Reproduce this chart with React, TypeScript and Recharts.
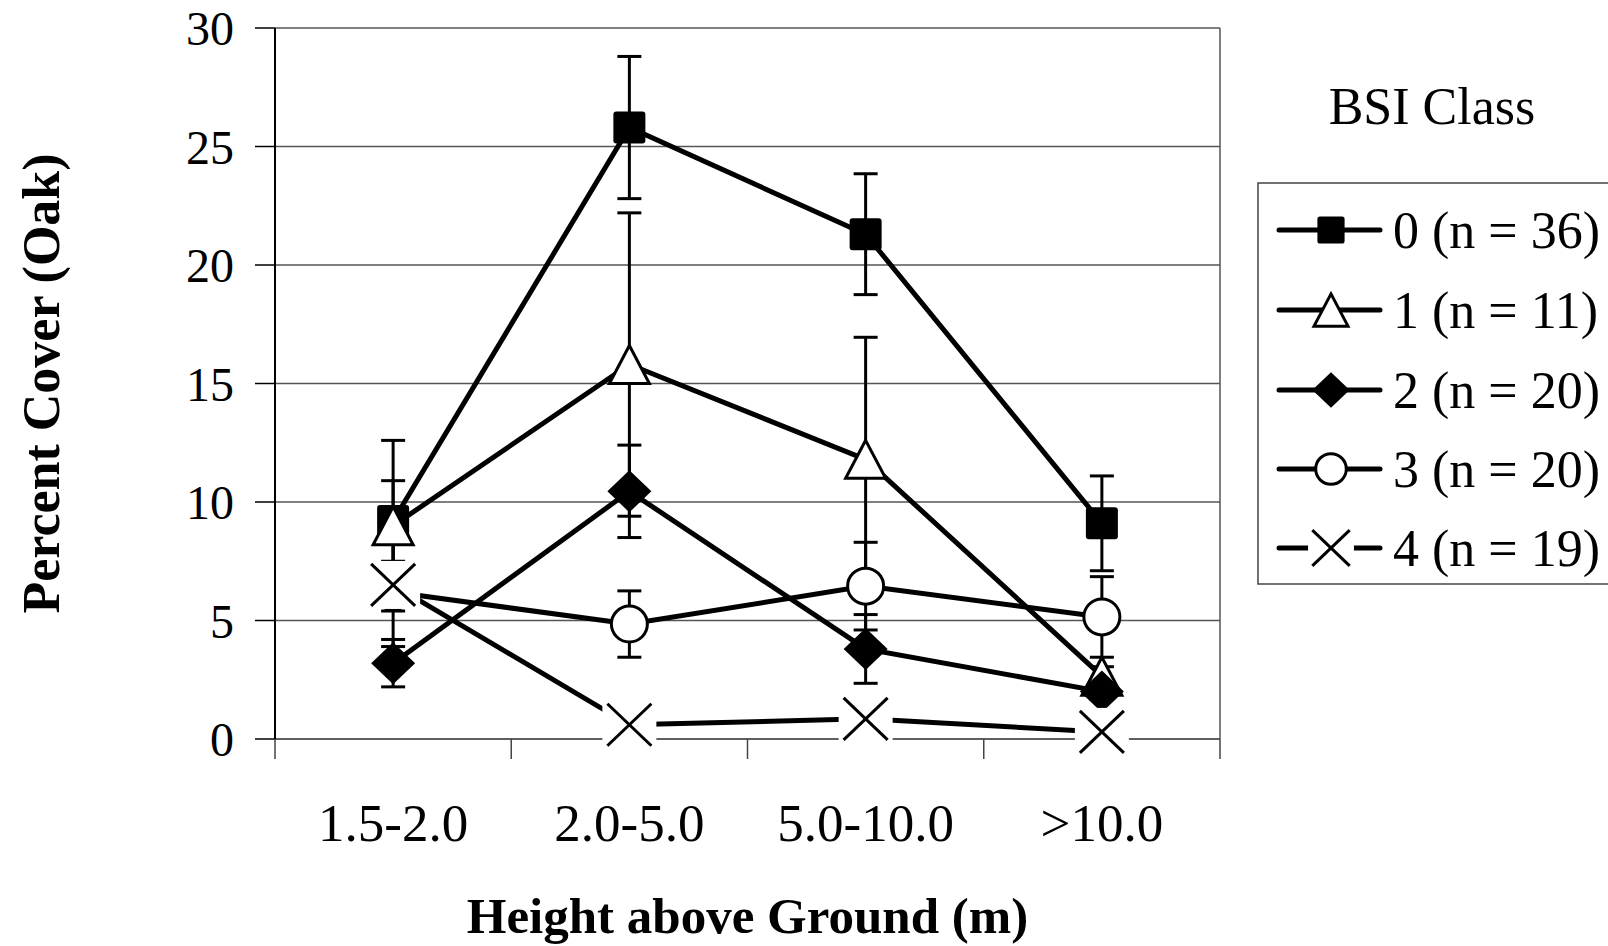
import React from 'react';
import {
  LineChart,
  Line,
  XAxis,
  YAxis,
  CartesianGrid,
  ErrorBar,
  ReferenceLine,
  Legend
} from 'recharts';

const FONT = "'Liberation Serif', 'Times New Roman', serif";

const categories = ['1.5-2.0', '2.0-5.0', '5.0-10.0', '>10.0'];
const yTicks = [0, 5, 10, 15, 20, 25, 30];

// mean percent cover and error (+/-) per BSI class
const class0 = [9.2, 25.8, 21.3, 9.1];
const class0Err = [1.7, 3.0, 2.55, 2.0];
const class1 = [9.0, 15.8, 11.8, 2.65];
const class1Err = [3.6, 6.4, 5.15, 0.4];
const class2 = [3.2, 10.45, 3.8, 2.0];
const class2Err = [1.0, 1.95, 1.45, 0.3];
const class3 = [6.2, 4.85, 6.45, 5.15];
const class3Err = [2.3, 1.4, 1.85, 1.7];
const class4 = [6.5, 0.6, 0.85, 0.3];

const seriesNames = ['0 (n = 36)', '1 (n = 11)', '2 (n = 20)', '3 (n = 20)', '4 (n = 19)'];
const seriesShapes = ['square', 'triangle', 'diamond', 'circle', 'cross'];

const data = categories.map((cat, i) => ({
  cat,
  x: i + 0.5,
  c0: class0[i], e0: class0Err[i],
  c1: class1[i], e1: class1Err[i],
  c2: class2[i], e2: class2Err[i],
  c3: class3[i], e3: class3Err[i],
  c4: class4[i]
}));

// boundary ticks (marks) and centre ticks (labels)
const xTicks = categories.flatMap((_, i) => [i, i + 0.5]).concat(categories.length);

function Marker({ shape, cx, cy, s = 1 }: { shape: string; cx: number; cy: number; s?: number }) {
  if (cx == null || cy == null) return null;
  switch (shape) {
    case 'square':
      return <rect x={cx - 16 * s} y={cy - 16 * s} width={32 * s} height={32 * s} rx={3 * s} fill="#000" />;
    case 'triangle':
      return (
        <path
          d={`M${cx},${cy - 19 * s} L${cx + 20 * s},${cy + 19 * s} L${cx - 20 * s},${cy + 19 * s} Z`}
          fill="#fff" stroke="#000" strokeWidth={3} strokeLinejoin="miter"
        />
      );
    case 'diamond':
      return (
        <path
          d={`M${cx},${cy - 21 * s} L${cx + 22 * s},${cy} L${cx},${cy + 21 * s} L${cx - 22 * s},${cy} Z`}
          fill="#000"
        />
      );
    case 'circle':
      return <circle cx={cx} cy={cy} r={18 * s} fill="#fff" stroke="#000" strokeWidth={3} />;
    case 'cross':
      return (
        <g>
          <rect x={cx - 27 * s} y={cy - 24 * s} width={54 * s} height={48 * s} fill="#fff" />
          <line x1={cx - 22 * s} y1={cy - 21 * s} x2={cx + 22 * s} y2={cy + 21 * s} stroke="#000" strokeWidth={3} />
          <line x1={cx - 22 * s} y1={cy + 21 * s} x2={cx + 22 * s} y2={cy - 21 * s} stroke="#000" strokeWidth={3} />
        </g>
      );
    default:
      return null;
  }
}

function makeDot(shape: string) {
  return (p: any) => <Marker key={`${shape}-${p.index}`} shape={shape} cx={p.cx} cy={p.cy} />;
}

function XTick(props: any) {
  const { x, y, payload } = props;
  const v = payload.value;
  if (Number.isInteger(v)) {
    return <line x1={x} y1={y} x2={x} y2={y + 20} stroke="#444" strokeWidth={1.5} />;
  }
  return (
    <text x={x} y={y + 84} textAnchor="middle" dominantBaseline="central" fontSize={53} fontFamily={FONT} fill="#000">
      {categories[Math.floor(v)]}
    </text>
  );
}

function XTitle(props: any) {
  const { viewBox } = props;
  return (
    <text
      x={viewBox.x + viewBox.width / 2}
      y={viewBox.y + 177}
      textAnchor="middle"
      dominantBaseline="central"
      fontSize={51}
      fontWeight="bold"
      fontFamily={FONT}
      fill="#000"
    >
      Height above Ground (m)
    </text>
  );
}

function YTitle(props: any) {
  const { viewBox } = props;
  const x = viewBox.x + 41;
  const y = viewBox.y + viewBox.height / 2;
  return (
    <text
      x={x}
      y={y}
      transform={`rotate(-90, ${x}, ${y})`}
      textAnchor="middle"
      dominantBaseline="central"
      fontSize={52}
      fontWeight="bold"
      fontFamily={FONT}
      fill="#000"
    >
      Percent Cover (Oak)
    </text>
  );
}

function LegendBox() {
  const rows = [110, 190, 270, 349, 428];
  return (
    <svg width={358} height={540} style={{ display: 'block' }}>
      <text x={182} y={64} textAnchor="middle" fontSize={52} fontFamily={FONT} fill="#000">
        BSI Class
      </text>
      <rect x={8} y={123} width={400} height={401} fill="#fff" stroke="#444" strokeWidth={1.5} />
      {seriesNames.map((name, i) => (
        <g key={name}>
          <line x1={29} y1={rows[i] + 60} x2={130} y2={rows[i] + 60} stroke="#000" strokeWidth={5} strokeLinecap="round" />
          <Marker shape={seriesShapes[i]} cx={81} cy={rows[i] + 60} s={0.85} />
          <text x={143} y={rows[i] + 60} dominantBaseline="central" fontSize={52} fontFamily={FONT} fill="#000">
            {name}
          </text>
        </g>
      ))}
    </svg>
  );
}

export default function App() {
  return (
    <div style={{ width: 1608, height: 946, background: '#fff' }}>
      <style>{'body{margin:0;}'}</style>
      <LineChart
        width={1608}
        height={946}
        data={data}
        margin={{ top: 28, right: 388, bottom: 0, left: 0 }}
      >
        <CartesianGrid horizontal vertical={false} stroke="#555" strokeWidth={1.3} />
        <XAxis
          type="number"
          dataKey="x"
          domain={[0, categories.length]}
          ticks={xTicks}
          interval={0}
          tickSize={0}
          tickMargin={0}
          tickLine={false}
          axisLine={{ stroke: '#555', strokeWidth: 1.3 }}
          tick={<XTick />}
          height={207}
          label={<XTitle />}
        />
        <YAxis
          type="number"
          domain={[0, 30]}
          ticks={yTicks}
          interval={0}
          width={275}
          tickSize={20}
          tickMargin={21}
          tickLine={{ stroke: '#000', strokeWidth: 1.5 }}
          axisLine={{ stroke: '#000', strokeWidth: 2 }}
          tick={{ fontSize: 48, fill: '#000', fontFamily: FONT }}
          label={<YTitle />}
        />
        <ReferenceLine x={categories.length} stroke="#555" strokeWidth={1.5} />
        <Line dataKey="c0" type="linear" stroke="#000" strokeWidth={5} dot={makeDot('square')} activeDot={false} isAnimationActive={false}>
          <ErrorBar dataKey="e0" direction="y" width={12} strokeWidth={3} stroke="#000" />
        </Line>
        <Line dataKey="c1" type="linear" stroke="#000" strokeWidth={5} dot={makeDot('triangle')} activeDot={false} isAnimationActive={false}>
          <ErrorBar dataKey="e1" direction="y" width={12} strokeWidth={3} stroke="#000" />
        </Line>
        <Line dataKey="c2" type="linear" stroke="#000" strokeWidth={5} dot={makeDot('diamond')} activeDot={false} isAnimationActive={false}>
          <ErrorBar dataKey="e2" direction="y" width={12} strokeWidth={3} stroke="#000" />
        </Line>
        <Line dataKey="c3" type="linear" stroke="#000" strokeWidth={5} dot={makeDot('circle')} activeDot={false} isAnimationActive={false}>
          <ErrorBar dataKey="e3" direction="y" width={12} strokeWidth={3} stroke="#000" />
        </Line>
        <Line dataKey="c4" type="linear" stroke="#000" strokeWidth={5} dot={makeDot('cross')} activeDot={false} isAnimationActive={false} />
        <Legend
          layout="horizontal"
          verticalAlign="middle"
          align="center"
          width={358}
          wrapperStyle={{ left: 1250, top: 60, width: 358, height: 540 }}
          content={() => <LegendBox />}
        />
      </LineChart>
    </div>
  );
}
